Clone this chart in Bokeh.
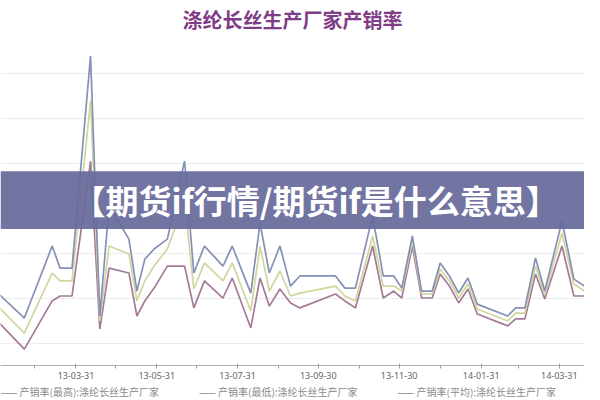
from datetime import datetime
from bokeh.plotting import figure
from bokeh.models import (Range1d, FixedTicker, DatetimeTickFormatter, Title,
                          BoxAnnotation, Label, Grid)
from bokeh.embed import file_html
from bokeh.resources import INLINE

# ---------------- data ----------------
title_text = "涤纶长丝生产厂家产销率"
banner_text = "【期货if行情/期货if是什么意思】"

dates = ["2013-01-27", "2013-02-20", "2013-03-13", "2013-03-19", "2013-03-28", "2013-04-11",
         "2013-04-18", "2013-04-25", "2013-05-10", "2013-05-16", "2013-05-22", "2013-05-29",
         "2013-06-08", "2013-06-21", "2013-06-28", "2013-07-06", "2013-07-20", "2013-07-27",
         "2013-08-10", "2013-08-17", "2013-08-24", "2013-09-01", "2013-09-09", "2013-09-16",
         "2013-10-13", "2013-10-20", "2013-10-28", "2013-11-10", "2013-11-18", "2013-11-26",
         "2013-12-02", "2013-12-10", "2013-12-17", "2013-12-25", "2013-12-31", "2014-01-07",
         "2014-01-14", "2014-01-21", "2014-01-28", "2014-02-20", "2014-02-26", "2014-03-05",
         "2014-03-13", "2014-03-20", "2014-04-02", "2014-04-11", "2014-04-19", "2014-04-25"]

rate_max = [64.4, 51.1, 83.1, 73.3, 73.3, 167.6, 52.0, 100.9, 86.2, 63.1, 77.3, 81.8,
            86.2, 120.9, 71.1, 83.1, 74.2, 83.1, 62.2, 93.3, 71.1, 83.1, 65.3, 69.8,
            69.8, 64.4, 64.4, 96.4, 69.8, 69.8, 64.4, 87.6, 63.1, 63.1, 75.6, 69.8,
            62.2, 68.9, 57.3, 52.0, 55.6, 55.6, 77.8, 63.1, 94.2, 68.4, 65.3, 79.6]

rate_avg = [58.7, 44.4, 71.1, 67.6, 67.6, 147.6, 49.8, 83.1, 79.6, 58.7, 67.6, 74.2,
            81.8, 103.1, 64.0, 75.6, 67.6, 75.6, 54.2, 83.1, 63.1, 72.0, 60.9, 62.2,
            65.3, 60.9, 58.7, 87.6, 65.3, 65.3, 63.1, 85.3, 61.8, 61.8, 72.9, 67.6,
            60.0, 66.2, 55.1, 49.8, 53.3, 53.3, 74.2, 61.3, 88.9, 66.2, 63.1, 75.6]

rate_min = [52.0, 37.3, 58.7, 60.9, 60.9, 120.9, 46.2, 73.3, 71.1, 52.0, 58.7, 64.4,
            74.2, 74.2, 55.6, 67.6, 60.0, 68.9, 46.7, 68.9, 56.4, 64.0, 57.8, 55.6,
            61.8, 58.7, 55.6, 83.1, 60.0, 63.1, 60.0, 83.1, 60.0, 60.0, 70.7, 65.3,
            57.8, 64.0, 52.9, 47.6, 50.7, 50.7, 70.7, 59.6, 83.1, 60.9, 60.9, 72.0]

series_labels = ["产销率(最高):涤纶长丝生产厂家", "产销率(最低):涤纶长丝生产厂家",
                 "产销率(平均):涤纶长丝生产厂家"]

major_tick_dates = ["2013-01-31", "2013-03-31", "2013-05-31", "2013-07-31", "2013-09-30",
                    "2013-11-30", "2014-01-31", "2014-03-31"]
minor_tick_dates = ["2013-02-28", "2013-04-30", "2013-06-30", "2013-08-31", "2013-10-31",
                    "2013-12-31", "2014-02-28"]
grid_values = [40, 60, 80, 100, 120, 140, 160]

x_start, x_end = "2013-02-02", "2014-04-19"
y_start, y_end = 30, 176.7
banner_low, banner_high = 90.7, 116.4
banner_center_date = "2013-09-28"

# ---------------- helpers ----------------
def to_dt(s):
    return datetime.strptime(s, "%Y-%m-%d")

EPOCH = datetime(1970, 1, 1)

def to_ms(s):
    return (to_dt(s) - EPOCH).total_seconds() * 1000.0

xs = [to_dt(d) for d in dates]

# ---------------- figure ----------------
p = figure(frame_width=584, frame_height=330,
           x_axis_type="datetime", y_axis_location=None,
           output_backend="svg", toolbar_location=None,
           x_range=Range1d(to_dt(x_start), to_dt(x_end)),
           y_range=Range1d(y_start, y_end),
           min_border=0, min_border_left=0, min_border_right=0,
           min_border_top=27, min_border_bottom=0,
           title=title_text)
p.outline_line_color = None
p.background_fill_color = "white"
p.border_fill_color = "white"

p.title.align = "center"
p.title.text_font = "Noto Sans CJK SC"
p.title.text_font_size = "20px"
p.title.text_font_style = "bold"
p.title.text_color = "#7f3d88"
p.title.standoff = 4

p.xgrid.visible = False
for g in p.ygrid:
    g.visible = False
p.add_layout(Grid(dimension=1, ticker=FixedTicker(ticks=grid_values),
                  grid_line_color="#ececec", grid_line_width=1))

ax = p.xaxis[0]
ax.ticker = FixedTicker(ticks=[to_ms(d) for d in major_tick_dates],
                        minor_ticks=[to_ms(d) for d in minor_tick_dates])
fmt = "%y-%m-%d"
ax.formatter = DatetimeTickFormatter(milliseconds=fmt, seconds=fmt, minsec=fmt, minutes=fmt,
                                     hourmin=fmt, hours=fmt, days=fmt, months=fmt, years=fmt)
ax.axis_line_color = "#b0b0b0"
ax.major_tick_line_color = "#a0a0a0"
ax.minor_tick_line_color = "#a0a0a0"
ax.major_tick_out = 3
ax.major_tick_in = 2
ax.minor_tick_out = 3
ax.minor_tick_in = 0
ax.major_label_standoff = 3
ax.major_label_text_font = "Noto Sans"
ax.major_label_text_font_size = "9px"
ax.major_label_text_color = "#666666"

# ---------------- lines ----------------
c_max, c_min, c_avg = "#8590b5", "#a57a98", "#d0d69c"
p.line(xs, rate_min, line_color=c_min, line_width=1.7)
p.line(xs, rate_avg, line_color=c_avg, line_width=1.7)
p.line(xs, rate_max, line_color=c_max, line_width=1.7)

# ---------------- legend row (as text under the axis) ----------------
gap = "\u3000\u3000\u3000\u3000"
legend_text = gap.join("—— " + s for s in series_labels)
p.add_layout(Title(text=legend_text, align="left", standoff=0,
                   text_font="Noto Sans CJK SC", text_font_size="10px",
                   text_font_style="normal", text_color="#8a8a8a"), "below")

# ---------------- banner ----------------
p.add_layout(BoxAnnotation(bottom=banner_low, top=banner_high, fill_color="#676b9b",
                           fill_alpha=0.93, line_alpha=0))
p.add_layout(Label(x=to_dt(banner_center_date), y=(banner_low + banner_high) / 2,
                   text=banner_text, text_align="center", text_baseline="middle",
                   text_color="white", text_font="Noto Sans CJK SC",
                   text_font_style="bold", text_font_size="33px"))

open("out.html", "w").write(file_html(p, INLINE))
